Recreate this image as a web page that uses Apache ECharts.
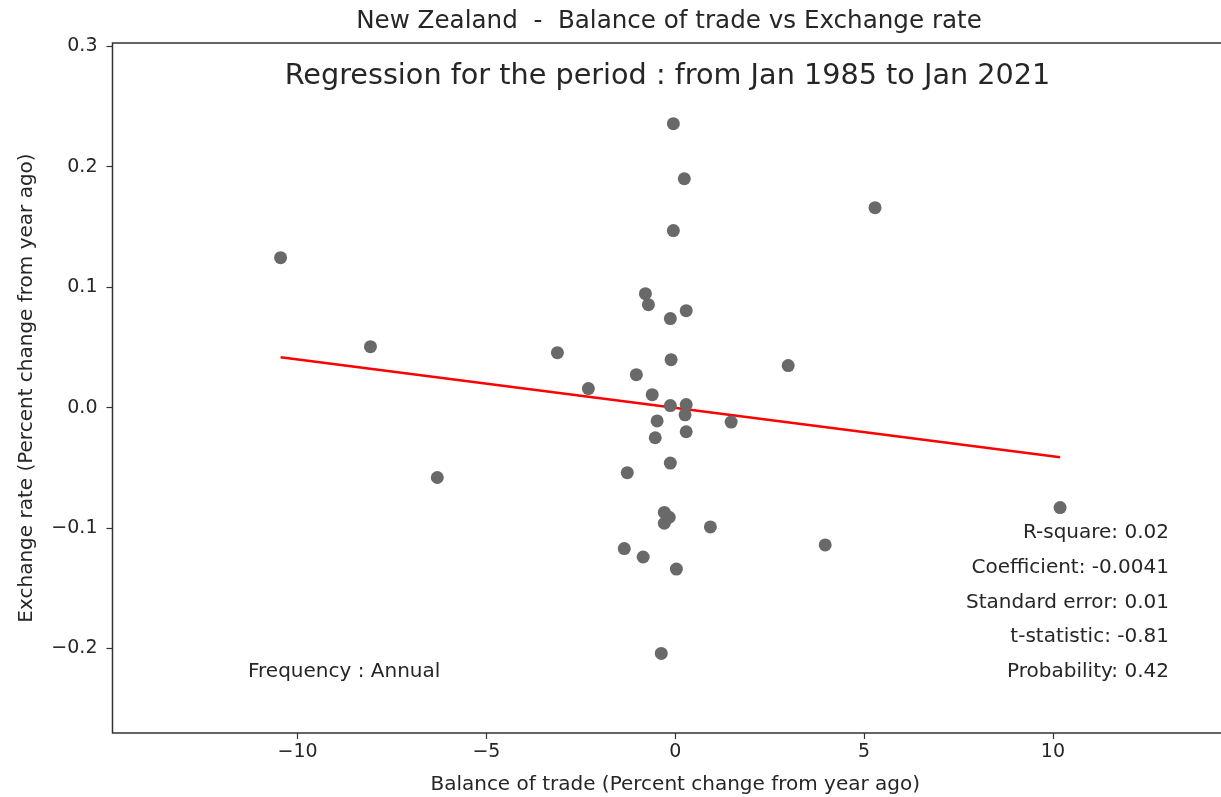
<!DOCTYPE html>
<html>
<head>
<meta charset="utf-8">
<script src="https://cdn.jsdelivr.net/npm/echarts@6/dist/echarts.min.js"></script>
<style>
  html, body { margin: 0; padding: 0; background: #fff; }
  #chart { width: 1221px; height: 797px; }
</style>
</head>
<body>
<div id="chart"></div>
<script>
// annual observations, 1985 - 2021
const tradeChange = [
  -10.45, -8.07, -6.30, -3.12, -2.30, -1.03, -0.79, -0.71, -0.13, -0.05,
  0.24, -0.05, 0.29, -0.11, -0.61, -0.13, 0.29, 0.26, -0.48, -0.53,
  0.29, 1.48, 2.99, 5.29, -0.13, -1.27, -0.29, -0.16, -0.29, 0.93,
  -1.35, -0.85, 0.03, -0.37, 3.97, 10.19
];
const fxChange = [
  0.1245, 0.0506, -0.058, 0.0456, 0.0158, 0.0274, 0.0946, 0.0855, 0.0739, 0.2357,
  0.190, 0.147, 0.0805, 0.0398, 0.0108, 0.0017, 0.0025, -0.006, -0.011, -0.025,
  -0.020, -0.012, 0.0349, 0.166, -0.046, -0.054, -0.087, -0.091, -0.096, -0.099,
  -0.117, -0.124, -0.134, -0.204, -0.114, -0.083
];
const xTicks = [-10, -5, 0, 5, 10];
const yTicks = [-0.2, -0.1, 0.0, 0.1, 0.2, 0.3];
const statLines = [
  'R-square: 0.02',
  'Coefficient: -0.0041',
  'Standard error: 0.01',
  't-statistic: -0.81',
  'Probability: 0.42'
];

const points = tradeChange.map((x, i) => [x, fxChange[i]]);

// simple OLS fit for the red line
function fitLine(xs, ys) {
  const n = xs.length;
  const mx = xs.reduce((a, b) => a + b, 0) / n;
  const my = ys.reduce((a, b) => a + b, 0) / n;
  let sxy = 0, sxx = 0;
  for (let i = 0; i < n; i++) {
    sxy += (xs[i] - mx) * (ys[i] - my);
    sxx += (xs[i] - mx) * (xs[i] - mx);
  }
  const slope = sxy / sxx;
  return { slope, intercept: my - slope * mx };
}
const fit = fitLine(tradeChange, fxChange);
const xLo = Math.min(...tradeChange);
const xHi = Math.max(...tradeChange);
const fitPoints = [[xLo, fit.intercept + fit.slope * xLo], [xHi, fit.intercept + fit.slope * xHi]];

const FONT = '"DejaVu Sans", sans-serif';
const TXT = '#262626';
const fmtMinus = (v) => String(v).replace('-', '\u2212');

const chart = echarts.init(document.getElementById('chart'));

const statText = statLines.map((line, i) => ({
  type: 'text',
  x: 1169,
  y: 533 + i * 34.75,
  style: { text: line, font: '20px ' + FONT, fill: TXT, align: 'right', verticalAlign: 'middle' }
}));

chart.setOption({
  animation: false,
  backgroundColor: '#fff',
  grid: {
    left: 112.5, width: 1125.5, top: 43, height: 690,
    outerBoundsMode: 'none',
    containLabel: false,
    show: true, borderColor: '#333', borderWidth: 1.5
  },
  xAxis: {
    type: 'value',
    min: -14.9, max: 14.9,
    name: 'Balance of trade (Percent change from year ago)',
    nameLocation: 'middle',
    nameGap: 42,
    nameTextStyle: { fontFamily: FONT, fontSize: 20, color: TXT },
    axisLine: { show: false, onZero: false },
    axisTick: { show: true, customValues: xTicks, length: 6, lineStyle: { color: '#333', width: 1.2 } },
    axisLabel: { customValues: xTicks, fontFamily: FONT, fontSize: 19, color: TXT, margin: 10, formatter: fmtMinus },
    splitLine: { show: false }
  },
  yAxis: {
    type: 'value',
    min: -0.2701, max: 0.3027,
    name: 'Exchange rate (Percent change from year ago)',
    nameLocation: 'middle',
    nameGap: 76,
    nameRotate: 90,
    nameTextStyle: { fontFamily: FONT, fontSize: 20, color: TXT },
    axisLine: { show: false, onZero: false },
    axisTick: { show: true, customValues: yTicks, length: 6, lineStyle: { color: '#333', width: 1.2 } },
    axisLabel: {
      customValues: yTicks, fontFamily: FONT, fontSize: 19, color: TXT, margin: 15,
      formatter: (v) => fmtMinus(v.toFixed(1))
    },
    splitLine: { show: false }
  },
  graphic: [
    {
      type: 'text', x: 669, y: 22,
      style: { text: 'New Zealand  -  Balance of trade vs Exchange rate', font: '24.6px ' + FONT, fill: TXT, align: 'center', verticalAlign: 'middle' }
    },
    {
      type: 'text', x: 667.5, y: 77,
      style: { text: 'Regression for the period : from Jan 1985 to Jan 2021', font: '28.7px ' + FONT, fill: TXT, align: 'center', verticalAlign: 'middle' }
    },
    {
      type: 'text', x: 248, y: 672,
      style: { text: 'Frequency : Annual', font: '20px ' + FONT, fill: TXT, verticalAlign: 'middle' }
    },
    ...statText
  ],
  series: [
    {
      type: 'scatter',
      data: points,
      symbolSize: 13,
      itemStyle: { color: '#696969', opacity: 1 },
      z: 3
    },
    {
      type: 'line',
      data: fitPoints,
      symbol: 'none',
      lineStyle: { color: '#ff0000', width: 2.5 },
      z: 2
    }
  ]
});
</script>
</body>
</html>
